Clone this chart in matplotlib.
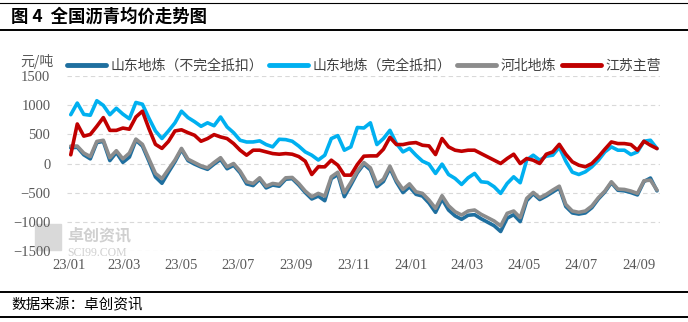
"""全国沥青均价走势图（图4）。"""

import matplotlib
matplotlib.use("Agg")
import matplotlib.pyplot as plt
import matplotlib.dates as mdates
from matplotlib.lines import Line2D
from matplotlib.patches import Rectangle
import pandas as pd

plt.rcParams["font.family"] = ["Noto Sans CJK SC", "DejaVu Sans"]

# 数据（周度，元/吨）
dates = pd.date_range("2023-01-03", "2024-09-20", periods=91)

sd_partial = [270, 280, 150, 80, 360, 380, 50, 190, 20, 110,
              400, 300, 40, -230, -340, -150, 30, 240, 50, -10,
              -60, -100, -10, 70, -90, -30, -160, -350, -380, -270,
              -420, -370, -390, -270, -260, -370, -500, -610, -560, -640,
              -260, -190, -570, -370, -160, -10, -110, -400, -310, -80,
              -320, -500, -400, -530, -560, -680, -840, -610, -800, -900,
              -960, -890, -880, -950, -1010, -1070, -1170, -940, -880, -1000,
              -640, -520, -620, -560, -490, -420, -740, -850, -870, -850,
              -760, -610, -490, -330, -460, -470, -500, -540, -310, -250,
              -470]

sd_full = [840, 1040, 845, 830, 1080, 1000, 840, 950, 850, 770,
           1050, 1020, 780, 560, 430, 560, 700, 900, 790, 720,
           640, 700, 650, 800, 629, 530, 400, 370, 371, 390,
           326, 286, 417, 411, 383, 300, 200, 143, 60, 143,
           429, 480, 229, 286, 620, 611, 700, 326, 429, 571,
           343, 200, 260, 143, 40, -11, -171, -11, -189, -257,
           -360, -246, -171, -314, -326, -400, -514, -343, -229, -331,
           60, 143, 57, 126, 143, 280, 40, -149, -189, -143,
           -57, 57, 200, 286, 229, 229, 154, 200, 383, 400,
           257]

hebei = [300, 300, 180, 120, 380, 400, 100, 220, 80, 180,
         420, 330, 80, -170, -260, -100, 60, 260, 74, 17,
         -40, -74, 17, 100, -57, 0, -131, -314, -343, -246,
         -389, -343, -360, -246, -240, -343, -474, -571, -514, -560,
         -229, -150, -503, -326, -131, 17, -74, -354, -269, -46,
         -286, -446, -350, -486, -514, -629, -771, -554, -726, -829,
         -886, -817, -800, -874, -931, -989, -1074, -857, -817, -931,
         -600, -497, -589, -531, -457, -390, -703, -817, -840, -817,
         -731, -589, -474, -314, -440, -446, -474, -514, -297, -286,
         -457]

jiangsu = [150, 680, 471, 500, 640, 790, 570, 570, 610, 590,
           800, 900, 600, 330, 260, 380, 560, 580, 530, 486,
           383, 429, 497, 457, 429, 343, 229, 143, 229, 229,
           200, 171, 160, 171, 160, 120, 40, -189, -57, -57,
           57, -29, -200, -200, -17, 126, 131, 131, 246, 450,
           326, 326, 350, 360, 314, 303, 154, 430, 286, 229,
           211, 229, 229, 171, 114, 57, 0, 86, 160, 0,
           86, 57, 0, 160, 200, 330, 160, 29, -29, -57,
           0, 114, 246, 371, 343, 343, 326, 229, 383, 314,
           257]

series_names = ["山东地炼（不完全抵扣）", "山东地炼（完全抵扣）", "河北地炼", "江苏主营"]
series_values = [sd_partial, sd_full, hebei, jiangsu]
series_colors = ["#1f6f9f", "#00b0f0", "#8c8c8c", "#c00000"]

y_ticks = [-1500, -1000, -500, 0, 500, 1000, 1500]
x_ticks = pd.date_range("2023-01-01", "2024-09-01", freq="2MS")

TICK_COLOR = "#595959"


def main():
    fig = plt.figure(figsize=(6.88, 3.22), dpi=100)
    ax = fig.add_axes([0.0974, 0.2214, 0.8616, 0.5416])

    for name, vals, color in zip(series_names, series_values, series_colors):
        ax.plot(dates, vals, color=color, linewidth=2.6, label=name,
                solid_joinstyle="round", solid_capstyle="round")

    ax.set_ylim(-1500, 1500)
    ax.set_yticks(y_ticks)
    ax.set_xlim(pd.Timestamp("2022-12-30"), pd.Timestamp("2024-09-23"))
    ax.set_xticks(x_ticks)
    ax.xaxis.set_major_formatter(mdates.DateFormatter("%y/%m"))
    for s in ax.spines.values():
        s.set_visible(False)
    ax.tick_params(length=0, colors=TICK_COLOR)
    ax.tick_params(axis="y", pad=12)
    ax.tick_params(axis="x", pad=6)
    for lab in ax.get_xticklabels() + ax.get_yticklabels():
        lab.set_fontfamily("Liberation Serif")
        lab.set_fontsize(10.5)
    ax.grid(axis="y", color="#d9d9d9", linestyle=(0, (4, 3)), linewidth=0.8)
    ax.set_axisbelow(True)

    # 单位
    fig.text(0.029, 0.808, "元/吨", fontsize=10, color=TICK_COLOR,
             va="center", ha="left")

    # 图例
    handles = [Line2D([], [], color=c, linewidth=3.5, solid_capstyle="round")
               for c in series_colors]
    fig.legend(handles, series_names, loc="center", ncol=4,
               bbox_to_anchor=(0.529, 0.795), frameon=False, fontsize=10,
               handlelength=2.8, handletextpad=0.3, columnspacing=0.45,
               labelcolor="#404040", borderaxespad=0)

    # 标题、来源与分隔线
    fig.text(0.016, 0.95, "图 4  全国沥青均价走势图", fontsize=12.5,
             fontweight="bold", va="center", ha="left", color="black")
    fig.text(0.016, 0.053, "数据来源：卓创资讯", fontsize=10.5,
             va="center", ha="left", color="black")
    for y, lw in [(0.990, 0.8), (0.907, 1.4), (0.093, 1.4), (0.016, 1.4)]:
        fig.add_artist(Line2D([0, 1], [y, y], color="black", linewidth=lw,
                              transform=fig.transFigure))

    # 水印
    fig.add_artist(Rectangle((0.051, 0.225), 0.038, 0.08, color="#d9d9d9",
                             transform=fig.transFigure, zorder=0))
    fig.text(0.098, 0.268, "卓创资讯", fontsize=11.5, fontweight="bold",
             color="#d0d0d0", va="center", ha="left", zorder=0)
    fig.text(0.098, 0.214, "SCI99.COM", fontsize=8.5,
             family="Liberation Serif", color="#d0d0d0", va="center",
             ha="left", zorder=0)

    fig.savefig("out.png", dpi=100)
    plt.close(fig)


if __name__ == "__main__":
    main()
